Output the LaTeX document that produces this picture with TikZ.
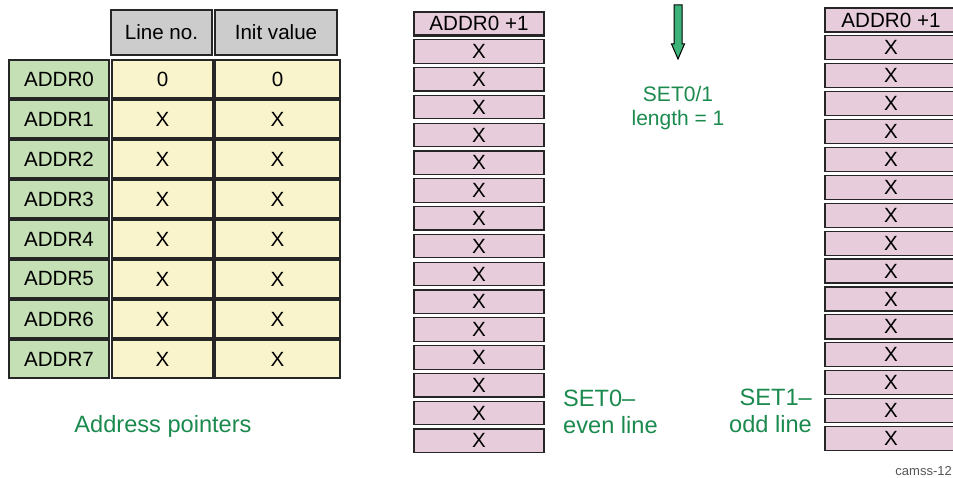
\documentclass[tikz,border=0pt]{standalone}
\usepackage{fontspec}
\setmainfont{Liberation Sans}
\definecolor{cellgreen}{HTML}{C6E0B5}
\definecolor{cellyellow}{HTML}{FAF4CD}
\definecolor{cellgray}{HTML}{CCCCCC}
\definecolor{cellpink}{HTML}{E7CDDB}
\definecolor{txtgreen}{HTML}{1B8A4E}
\definecolor{arrowgreen}{HTML}{3DB37A}
\definecolor{notegray}{HTML}{555555}
\tikzset{
  cellbase/.style={draw=black!85, line width=1.2pt, inner sep=0pt, font=\fontsize{20.6}{24}\selectfont},
  hdrcell/.style={cellbase, fill=cellgray, line width=2.4pt, minimum height=45pt},
  addrcell/.style={cellbase, fill=cellgreen, minimum width=100pt, minimum height=38pt},
  valcell/.style={cellbase, fill=cellyellow, minimum height=38pt},
  linebox/.style={cellbase, fill=cellpink, minimum height=24pt},
  firstbox/.style={linebox, line width=2.6pt},
  greenlbl/.style={text=txtgreen, inner sep=0pt, font=\fontsize{23.6}{27}\selectfont},
  greenlblsmall/.style={text=txtgreen, inner sep=0pt, font=\fontsize{21}{24}\selectfont},
}
\begin{document}
\begin{tikzpicture}[x=1pt,y=-1pt]
\useasboundingbox (0,0) rectangle (953,478);
\begin{scope}
\clip (0,0) rectangle (953,478);
% header
\node[hdrcell, minimum width=101pt] (hline) at (161.5,32.5) {Line no.};
\node[hdrcell, minimum width=122pt] (hinit) at (276,32.5) {Init value};
% table rows
\foreach \i/\a/\b in {0/0/0,1/X/X,2/X/X,3/X/X,4/X/X,5/X/X,6/X/X,7/X/X}{
  \node[addrcell] (addr\i) at (59,{79+40*\i}) {ADDR\i};
  \node[valcell, minimum width=101pt] (line\i) at (162.5,{79+40*\i}) {\a};
  \node[valcell, minimum width=125pt] (init\i) at (277.5,{79+40*\i}) {\b};
}
\node[greenlbl, anchor=base] (ap) at (163,432) {Address pointers};
% middle column (SET0)
\node[firstbox, minimum width=130pt, minimum height=23.5pt] (s0b0) at (479,23.75) {ADDR0 +1};
\foreach \i in {1,...,15}{
  \node[linebox, minimum width=130pt, minimum height=23.5pt] (s0b\i) at (479,{23.75+27.8*\i}) {X};
}
% right column (SET1)
\node[firstbox, minimum width=132pt] (s1b0) at (891,20) {ADDR0 +1};
\foreach \i in {1,...,15}{
  \node[linebox, minimum width=132pt] (s1b\i) at (891,{20+27.9*\i}) {X};
}
\end{scope}
% arrow
\draw[fill=arrowgreen, line width=1pt, line join=miter]
  (674,5) -- (682,5) -- (682,44) -- (684.5,44) -- (678,59) -- (671.5,44) -- (674,44) -- cycle;
\node[greenlblsmall, align=center] (setlen) at (678,108) {SET0/1\\length = 1};
\node[greenlbl, align=left, anchor=west] (set0) at (563,412) {SET0–\\even line};
\node[greenlbl, align=right, anchor=east] (set1) at (812,411) {SET1–\\odd line};
\node[text=notegray, inner sep=0pt, anchor=base east, font=\fontsize{13}{15}\selectfont] (tag) at (952,475) {camss-12};
\end{tikzpicture}
\end{document}
